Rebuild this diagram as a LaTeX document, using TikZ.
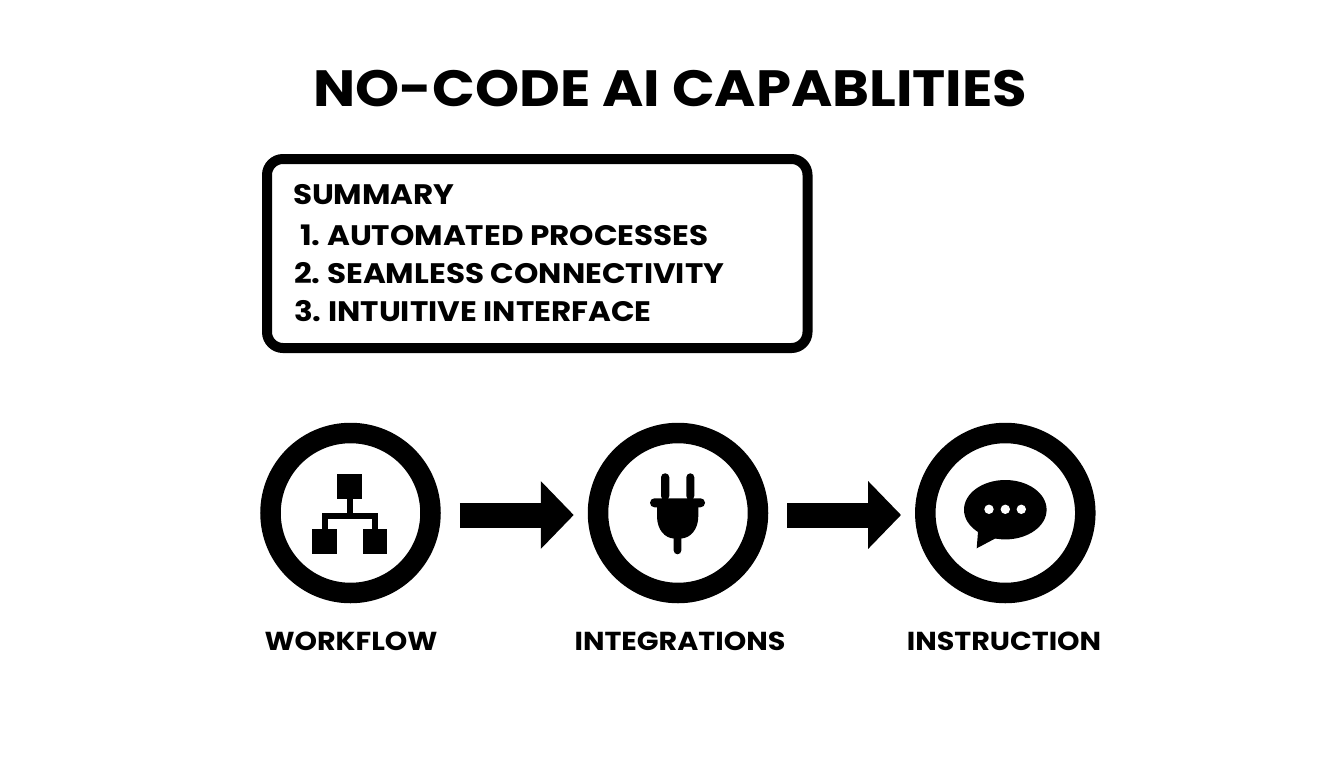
\documentclass[tikz,border=0pt]{standalone}
\usepackage{fontspec}
\setmainfont[FakeStretch=1.1]{Poppins}
\usetikzlibrary{arrows.meta}
\tikzstyle{base}=[x=1pt, y=-1pt, inner sep=0pt, outer sep=0pt, font=\bfseries]
\tikzstyle{ring}=[draw=black, fill=white, circle, line width=20.5pt, minimum size=160pt, outer sep=.5\pgflinewidth]
\tikzstyle{flow}=[line width=25pt, -{Triangle[length=33pt,width=66pt]}, shorten <=19pt, shorten >=14pt]
\tikzstyle{title}=[font=\bfseries\fontsize{51}{51}\selectfont]
\tikzstyle{line}=[anchor=west, font=\bfseries\fontsize{28.2}{28.2}\selectfont]
\tikzstyle{label}=[font=\bfseries\fontsize{26}{26}\selectfont]
\tikzstyle{block}=[fill=black, minimum size=24.7pt]

\begin{document}
\begin{tikzpicture}[base]
    \useasboundingbox (0,0) rectangle (1344,768);
    \node [title] (heading) at (670.5,88.5) {NO-CODE AI CAPABLITIES};

    \draw [black, line width=10pt, rounded corners=16pt, fill=white] (267,159) rectangle (807.5,348);
    \node [line] (sum) at (293,195) {SUMMARY};
    \node [line] (one) at (300,235.5) {1.\hspace{-2pt} AUTOMATED PROCESSES};
    \node [line] (two) at (294,273.5) {2.\hspace{-2pt} SEAMLESS CONNECTIVITY};
    \node [line] (three) at (294,311.5) {3.\hspace{-2pt} INTUITIVE INTERFACE};

    \node [ring] (wf) at (350.5,513) {};
    \node [ring] (int) at (678,513) {};
    \node [ring] (ins) at (1005.3,513) {};
    \draw [flow] ([yshift=-2pt]wf.east) -- ([yshift=-2pt]int.west);
    \draw [flow] ([yshift=-2pt]int.east) -- ([yshift=-2pt]ins.west);

    \node [label] (wflabel) at (351,641.5) {WORKFLOW};
    \node [label] (intlabel) at (680,641.5) {INTEGRATIONS};
    \node [label] (inslabel) at (1004,641.5) {INSTRUCTION};

    \node [block] (wftop) at (349.8,486.7) {};
    \node [block] (wfleft) at (324.7,541.3) {};
    \node [block] (wfright) at (375,541.3) {};
    \coordinate (wfbus) at (349.8,516.3);
    \draw [line width=6pt] (wftop.south) -- (wfbus);
    \draw [line width=6pt] (wfleft.north) |- (wfbus) -| (wfright.north);

    \fill [rounded corners=4pt] (661,500) -- (661,473.3) -- (669.3,473.3) -- (669.3,500) -- cycle;
    \fill [rounded corners=4pt] (686.3,500) -- (686.3,473.3) -- (694.3,473.3) -- (694.3,500) -- cycle;
    \fill [rounded corners=4.4pt] (650,498.3) rectangle (705,507.3);
    \fill (657,505) -- (698.3,505) -- (698.3,516)
        .. controls (698.3,530) and (690,538) .. (681.3,538.5)
        -- (681.3,550.5) arc (0:180:3.8) -- (673.7,538.5)
        .. controls (665,538) and (657,530) .. (657,516) -- cycle;

    \fill (1005.3,509.7) ellipse [x radius=41.3, y radius=29.7];
    \fill (978.3,528) -- (976.7,548.3) -- (998,537) -- cycle;
    \foreach \x in {989,1005.3,1021.3}
        \fill [white] (\x,509.3) circle (4.7);
\end{tikzpicture}
\end{document}
